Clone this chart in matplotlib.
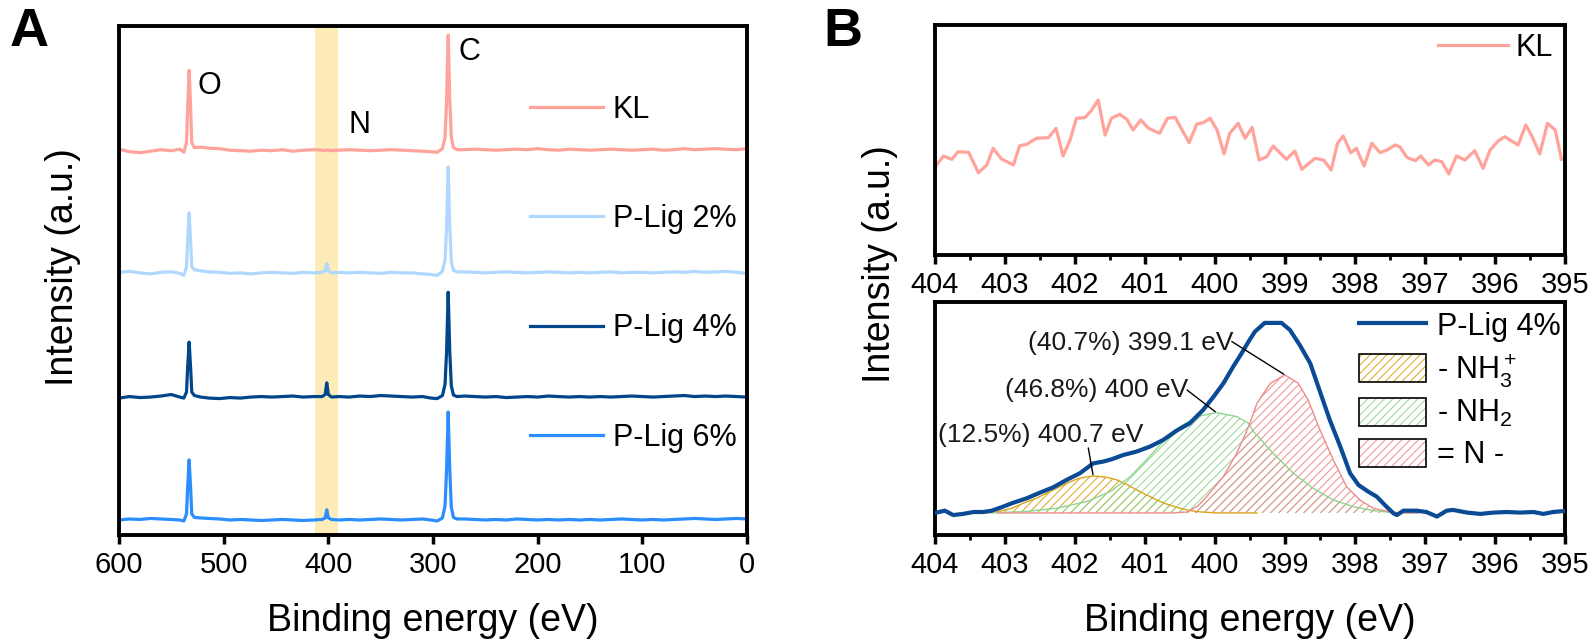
import matplotlib
matplotlib.use("Agg")
import matplotlib.pyplot as plt
from matplotlib.patches import Patch
from matplotlib.legend_handler import HandlerTuple

plt.rcParams['font.family'] = ['Liberation Sans', 'DejaVu Sans']
plt.rcParams['mathtext.fontset'] = 'custom'
plt.rcParams['mathtext.rm'] = 'Liberation Sans'
plt.rcParams['mathtext.it'] = 'Liberation Sans'
plt.rcParams['hatch.linewidth'] = 0.7

# ---------------- panel A: survey spectra ----------------
survey_ev = [600, 590, 580, 570, 560, 550, 542, 538,
             535.5, 534.5, 533, 531.5, 530.5, 528,
             522, 514, 504, 494, 484, 474, 464, 454, 444, 434, 424, 414,
             406, 403, 401.5, 400, 397,
             390, 380, 370, 360, 350, 340, 330, 320, 310, 302,
             296, 291, 288.5, 287, 285.5, 284, 282.5, 280.5, 277,
             270, 260, 250, 240, 230, 220, 210, 200, 190, 180, 170, 160, 150, 140,
             130, 120, 110, 100, 90, 80, 70, 60, 50, 40, 30, 20, 10, 0]

kl_survey = [0.2, -0.3, -0.5, -0.2, 0.1, -0.1, 0.2, -0.4,
             1.5, 8, 15.7, 8, 1.5, 0.5,
             0.6, 0.4, 0.3, 0.0, -0.1, -0.2, 0.0, -0.1, 0.1, -0.2, 0.0, 0.1,
             0.0, -0.1, 0.1, 0.0, -0.1,
             0.0, 0.1, 0.0, -0.1, 0.0, 0.1, 0.0, -0.1, -0.2, -0.3,
             -0.4, 0.3, 2.5, 10, 22.6, 10, 2.5, 0.5, 0.1,
             0.1, 0.2, 0.1, 0.0, 0.1, 0.2, 0.1, 0.3, 0.1, 0.0, 0.2, 0.1, 0.0, 0.1,
             0.2, 0.1, 0.0, 0.1, 0.2, 0.0, 0.1, 0.3, 0.1, 0.2, 0.3, 0.2, 0.1, 0.3]

plig2_survey = [0.1, 0.3, 0.0, -0.2, 0.1, 0.2, -0.1, -0.5,
                1.2, 6, 11.8, 6, 1.2, 0.6,
                0.4, 0.2, 0.1, -0.1, 0.0, -0.2, 0.0, 0.1, 0.0, -0.1, 0.1, 0.0,
                0.1, 0.4, 1.8, 0.4, 0.0,
                0.1, 0.0, 0.1, 0.0, -0.1, 0.1, 0.0, 0.0, -0.2, -0.3,
                -0.5, 0.3, 2.5, 9, 20.8, 9, 2.2, 0.5, 0.2,
                0.2, 0.1, 0.0, 0.1, 0.2, 0.1, 0.0, 0.1, 0.2, 0.1, 0.0, 0.1, 0.0, 0.1,
                0.2, 0.0, 0.1, 0.1, 0.0, 0.1, 0.2, 0.1, 0.3, 0.1, 0.2, 0.3, 0.1, -0.1]

plig4_survey = [-0.2, 0.1, -0.1, 0.0, 0.2, 0.5, 0.0, -0.2,
                1.0, 5.5, 10.8, 5.5, 1.0, 0.3,
                0.0, -0.2, -0.3, -0.1, -0.2, 0.0, 0.1, 0.0, 0.1, 0.2, 0.0, 0.1,
                0.1, 0.5, 2.8, 0.5, 0.0,
                0.1, 0.0, 0.2, 0.1, 0.3, 0.2, 0.1, 0.0, 0.1, -0.2,
                -0.3, 0.3, 2.5, 9, 20.6, 9, 2.2, 0.4, 0.1,
                0.2, 0.1, 0.0, 0.1, -0.1, 0.0, 0.1, 0.0, 0.2, 0.1, 0.0, 0.1, 0.0, 0.1,
                0.0, 0.1, 0.2, 0.1, 0.0, 0.1, 0.2, 0.3, 0.1, 0.2, 0.1, 0.2, 0.1, 0.0]

plig6_survey = [0.0, 0.2, 0.1, 0.3, 0.2, 0.1, 0.0, -0.2,
                1.2, 6, 11.8, 6, 1.2, 0.5,
                0.4, 0.3, 0.2, 0.0, 0.1, 0.0, -0.1, 0.0, 0.1, 0.0, -0.1, 0.0,
                0.1, 0.4, 2.0, 0.4, 0.1,
                0.0, 0.1, 0.0, 0.1, 0.2, 0.1, 0.0, 0.1, 0.2, 0.0,
                -0.2, 0.4, 2.8, 10, 21.2, 10, 2.5, 0.5, 0.2,
                0.2, 0.1, 0.0, 0.1, 0.0, 0.2, 0.1, 0.0, 0.1, 0.0, 0.1, 0.0, 0.1, 0.0,
                0.1, 0.2, 0.1, 0.0, 0.1, 0.0, 0.1, 0.2, 0.3, 0.2, 0.1, 0.2, 0.3, 0.2]

survey_names = ['KL', 'P-Lig 2%', 'P-Lig 4%', 'P-Lig 6%']
survey_offsets = [75.6, 51.5, 27.1, 2.95]
survey_colors = ['#FFA39B', '#B0D8FF', '#00468B', '#2B8EFF']

# ---------------- panel B: N 1s high resolution ----------------
kl_n1s_ev = [403.99, 403.88, 403.76, 403.67, 403.52, 403.38, 403.26, 403.17, 403.05,
             402.88, 402.79, 402.69, 402.55, 402.38, 402.27, 402.17, 402.07, 401.98,
             401.86, 401.76, 401.67, 401.57, 401.48, 401.36, 401.26, 401.17, 401.06,
             400.95, 400.79, 400.68, 400.57, 400.37, 400.26, 400.17, 400.07, 399.97,
             399.87, 399.79, 399.67, 399.57, 399.47, 399.37, 399.26, 399.17, 398.98,
             398.86, 398.76, 398.57, 398.45, 398.34, 398.25, 398.17, 398.06, 397.98,
             397.87, 397.76, 397.64, 397.52, 397.43, 397.36, 397.26, 397.14, 397.06,
             396.95, 396.86, 396.76, 396.66, 396.55, 396.43, 396.29, 396.17, 396.07,
             395.95, 395.86, 395.67, 395.56, 395.48, 395.36, 395.25, 395.14, 395.05]
kl_n1s = [89, 99, 95.7, 103.3, 102.7, 82.3, 90, 106.7, 96,
          90, 109.3, 110.7, 116.7, 117.3, 126.7, 99, 115, 136.7,
          137.3, 145, 155, 120, 136.7, 140.7, 135.7, 125, 135,
          126.7, 121.7, 136.7, 137.7, 112.3, 131, 132.3, 136.7, 125,
          101, 121.7, 131.7, 116.7, 127.7, 95, 98.3, 109, 95.7,
          104, 85.7, 96.7, 95, 85, 111.7, 119, 102.3, 106.7,
          89, 111.7, 102.3, 105.7, 110, 108.3, 97.7, 94.3, 99,
          90, 95, 93.3, 81, 99, 95, 104.3, 86.7, 105,
          114.3, 118.3, 110, 130, 120, 101, 131.7, 125, 95.7]

plig4_n1s_ev = [403.98, 403.86, 403.74, 403.6, 403.45, 403.31, 403.19, 403.05, 402.88,
                402.69, 402.5, 402.31, 402.12, 401.93, 401.74, 401.6, 401.48, 401.31,
                401.12, 400.93, 400.74, 400.55, 400.36, 400.17, 400.02, 399.88, 399.74,
                399.62, 399.52, 399.43, 399.29, 399.05, 398.93, 398.79, 398.64, 398.5,
                398.36, 398.21, 398.07, 397.95, 397.81, 397.69, 397.55, 397.45, 397.4,
                397.31, 397.12, 396.98, 396.83, 396.69, 396.6, 396.4, 396.21, 396.02,
                395.83, 395.64, 395.45, 395.31, 395.17, 395.02]
plig4_n1s = [0.2, 1.2, -1.1, -0.5, 0.5, 0.5, 1.2, 3.0, 5.4,
             7.7, 10.7, 13.5, 17.4, 20.9, 26.1, 27.0, 28.2, 30.5,
             32.3, 34.9, 38.4, 43.3, 47.2, 54.2, 61.2, 68.2, 77.0,
             84.0, 90.2, 95.4, 100, 100, 96.3, 88.4, 78.8, 63.8,
             48.9, 34.9, 20.9, 14.7, 11.2, 8.6, 3.3, -0.2, -1.1,
             1.2, 1.2, 0.5, -1.9, 1.2, 1.6, 0.2, -0.5, 0.2,
             0.5, 0.2, 0.5, -0.5, 0.5, 1.0]

nh3_ev = [403.3, 403.12, 402.9, 402.74, 402.55, 402.4, 402.25, 402.12, 401.95, 401.74,
          401.55, 401.4, 401.25, 401.12, 400.95, 400.83, 400.7, 400.55, 400.4, 400.26,
          399.98, 399.4]
nh3 = [0, 0.5, 2.5, 5.1, 7.8, 10.4, 13.2, 15.6, 18.2, 19.5,
       18.8, 17.4, 14.8, 12.1, 9.0, 6.8, 4.8, 3.0, 1.6, 0.7,
       0.0, 0.0]
nh2_ev = [403.2, 402.7, 402.26, 401.83, 401.5, 401.21, 400.98, 400.74, 400.5, 400.26,
          399.98, 399.69, 399.52, 399.45, 399.17, 398.88, 398.6, 398.31, 398.02, 397.74,
          397.45, 397.1]
nh2 = [0, 0.8, 2.5, 6.0, 11.2, 19.1, 27.9, 37.5, 45.4, 50.7,
       52.8, 50.7, 47.2, 42.8, 31.4, 20.9, 13.0, 6.8, 3.3, 1.2,
       0.2, 0.0]
imine_ev = [403.1, 400.6, 400.4, 400.25, 400.12, 399.88, 399.69, 399.52, 399.4, 399.21,
            399.0, 398.81, 398.67, 398.5, 398.31, 398.12, 397.93, 397.74, 397.5, 397.3,
            397.1]
imine = [0, 0, 0.5, 3.5, 8.6, 19.1, 31.4, 45.4, 57.7, 68.2,
         72.6, 68.2, 59.5, 43.7, 27.9, 13.8, 6.8, 2.5, 0.5, 0,
         0]

comp_names = ['- NH$_3^+$', '- NH$_2$', '= N -']
comp_colors = ['#D9A41E', '#8FD68F', '#EE8C8C']

W, H = 1596, 641
fig = plt.figure(figsize=(W / 100, H / 100), dpi=100)

def px_axes(left, top, right, bottom):
    return fig.add_axes([left / W, 1 - bottom / H, (right - left) / W, (bottom - top) / H])

def style_axes(ax):
    for s in ax.spines.values():
        s.set_linewidth(2.8)
    ax.set_yticks([])
    ax.tick_params(axis='x', direction='out', length=6.5, width=2.5, pad=5,
                   labelsize=21)
    ax.tick_params(axis='x', which='minor', direction='out', length=3.5, width=2.0)

# panel A
axA = px_axes(119, 26, 747, 535)
axA.axvspan(390.5, 413, color='#FDEBB8', lw=0, zorder=0)
surveys = [kl_survey, plig2_survey, plig4_survey, plig6_survey]
for name, ys, off, col in zip(survey_names, surveys, survey_offsets, survey_colors):
    axA.plot(survey_ev, [v + off for v in ys], color=col, lw=2.3, label=name)
axA.set_xlim(600, 0)
axA.set_ylim(0, 100)
axA.set_xticks([600, 500, 400, 300, 200, 100, 0])
style_axes(axA)
axA.set_xlabel('Binding energy (eV)', fontsize=27, labelpad=17)
axA.text(514, 88.2, 'O', fontsize=22, ha='center', va='center')
axA.text(369.8, 80.6, 'N', fontsize=22, ha='center', va='center')
axA.text(265.6, 94.9, 'C', fontsize=22, ha='center', va='center')
axA.legend(loc='upper left', bbox_to_anchor=(0.6545, 0.8654), frameon=False,
           fontsize=22, handlelength=2.4, handletextpad=0.3, labelspacing=2.6,
           borderpad=0, borderaxespad=0)
fig.text(63 / W, 1 - 267 / H, 'Intensity (a.u.)', rotation=90, fontsize=27,
         ha='center', va='center')

# panel B top
axB1 = px_axes(935, 25, 1565, 255)
axB1.plot(kl_n1s_ev, kl_n1s, color='#FFA39B', lw=2.3, label='KL')
axB1.set_xlim(404, 395)
axB1.set_ylim(0, 230)
axB1.set_xticks(range(404, 394, -1))
axB1.set_xticks([403.5, 402.5, 401.5, 400.5, 399.5, 398.5, 397.5, 396.5, 395.5], minor=True)
style_axes(axB1)
axB1.legend(loc='upper left', bbox_to_anchor=(0.798, 0.967), frameon=False,
            fontsize=22, handlelength=2.3, handletextpad=0.25,
            borderpad=0, borderaxespad=0)

# panel B bottom
axB2 = px_axes(935, 302, 1565, 535)
comps = [(nh3_ev, nh3), (nh2_ev, nh2), (imine_ev, imine)]
for (ev, val), col in zip(comps, comp_colors):
    axB2.fill_between(ev, 0, val, facecolor='none', edgecolor=col, hatch='////',
                      linewidth=0, zorder=1)
    axB2.plot(ev, val, color=col, lw=1.0, zorder=2)
env_line, = axB2.plot(plig4_n1s_ev, plig4_n1s, color='#0B4A94', lw=3.0, zorder=3)
axB2.set_xlim(404, 395)
axB2.set_ylim(-11.6, 111)
axB2.set_xticks(range(404, 394, -1))
axB2.set_xticks([403.5, 402.5, 401.5, 400.5, 399.5, 398.5, 397.5, 396.5, 395.5], minor=True)
style_axes(axB2)
axB2.set_xlabel('Binding energy (eV)', fontsize=27, labelpad=17)

# peak labels with leader lines
txt_kw = dict(fontsize=19, color='#1a1a1a', va='center', ha='right', zorder=5)
line_kw = dict(arrowstyle='-', color='black', lw=1.0, shrinkA=0, shrinkB=1)
axB2.text(399.74, 89.5, '(40.7%) 399.1 eV', **txt_kw)
axB2.annotate('', xy=(399.0, 72.6), xytext=(399.76, 90.2), arrowprops=line_kw, zorder=5)
axB2.text(400.38, 64.7, '(46.8%) 400 eV', **txt_kw)
axB2.annotate('', xy=(399.98, 52.8), xytext=(400.40, 64.7), arrowprops=line_kw, zorder=5)
axB2.text(401.02, 41, '(12.5%) 400.7 eV', **txt_kw)
axB2.annotate('', xy=(401.74, 19.5), xytext=(401.81, 34.2), arrowprops=line_kw, zorder=5)

handles = [env_line]
for col in comp_colors:
    hatch_patch = Patch(facecolor='none', edgecolor=col, hatch='////', lw=0)
    box = Patch(facecolor='none', edgecolor='black', lw=1.2)
    handles.append((hatch_patch, box))
axB2.legend(handles, ['P-Lig 4%'] + comp_names, loc='upper left',
            bbox_to_anchor=(0.673, 0.962), frameon=False, fontsize=22,
            handlelength=2.2, handleheight=1.05, handletextpad=0.36,
            labelspacing=0.3, borderpad=0, borderaxespad=0,
            handler_map={tuple: HandlerTuple(ndivide=1)})

fig.text(880 / W, 1 - 264 / H, 'Intensity (a.u.)', rotation=90, fontsize=27,
         ha='center', va='center')

fig.text(29 / W, 1 - 32 / H, 'A', fontsize=39, fontweight='bold', ha='center', va='center')
fig.text(843 / W, 1 - 32 / H, 'B', fontsize=39, fontweight='bold', ha='center', va='center')

fig.savefig('out.png', dpi=100)
